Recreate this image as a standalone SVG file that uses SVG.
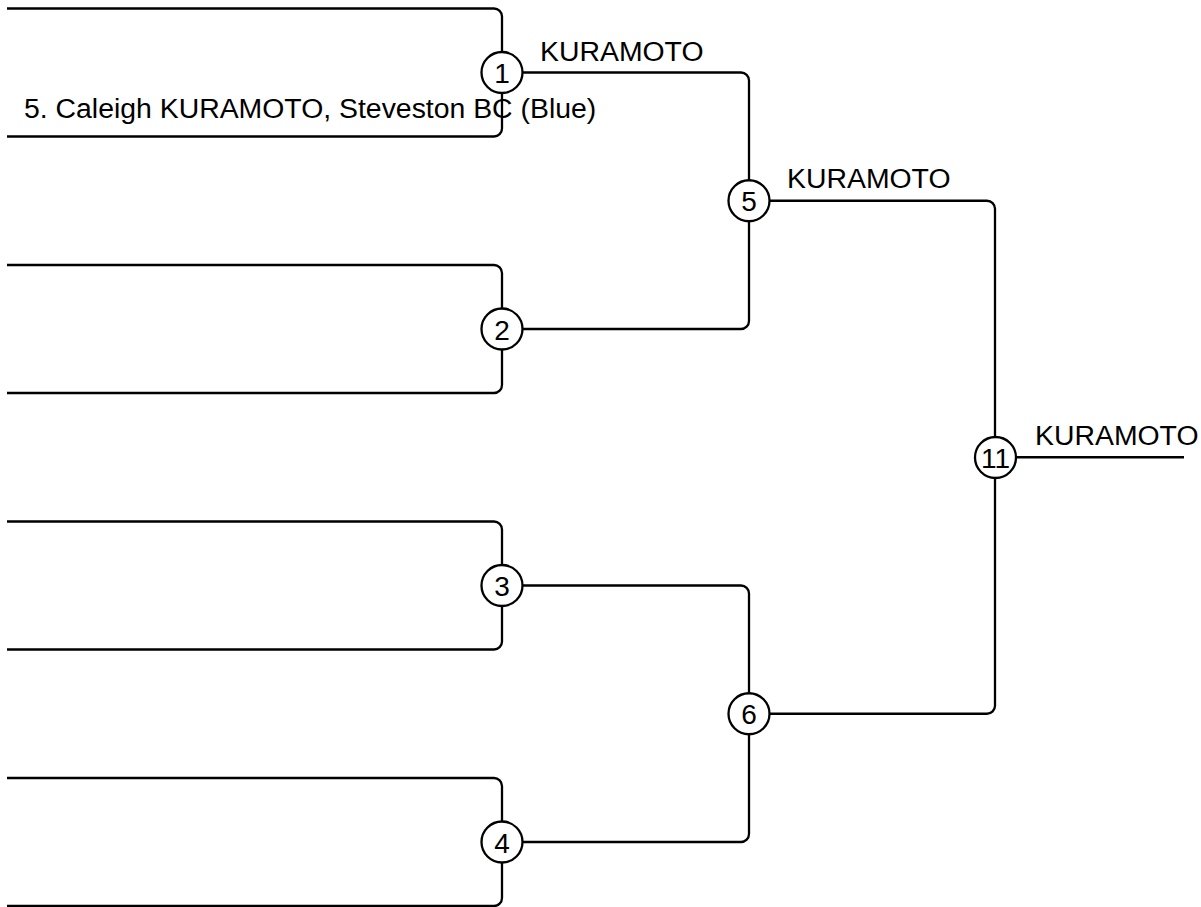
<svg xmlns="http://www.w3.org/2000/svg" width="1201" height="907" viewBox="0 0 1201 907">
<style>
.ln{fill:none;stroke:#000;stroke-width:2.3;stroke-linecap:butt}
.nd circle{fill:#fff;stroke:#000;stroke-width:2.3}
.nd text{font-family:"Liberation Sans",Arial,sans-serif;font-size:28px;fill:#000;text-anchor:middle}
.lbl{font-family:"Liberation Sans",Arial,sans-serif;font-size:28.4px;fill:#000}
</style>
<rect width="1201" height="907" fill="#fff"/>
<g id="connectors">
<path class="ln" d="M7,8.5 H494 A8,8 0 0 1 502,16.5 V128.5 A8,8 0 0 1 494,136.5 H7"/>
<path class="ln" d="M7,265 H494 A8,8 0 0 1 502,273 V385 A8,8 0 0 1 494,393 H7"/>
<path class="ln" d="M7,521.5 H494 A8,8 0 0 1 502,529.5 V641.5 A8,8 0 0 1 494,649.5 H7"/>
<path class="ln" d="M7,778 H494 A8,8 0 0 1 502,786 V898 A8,8 0 0 1 494,906 H7"/>
<path class="ln" d="M502,72.5 H741 A8,8 0 0 1 749,80.5 V321 A8,8 0 0 1 741,329 H502"/>
<path class="ln" d="M502,585.5 H741 A8,8 0 0 1 749,593.5 V834 A8,8 0 0 1 741,842 H502"/>
<path class="ln" d="M749,200.75 H987 A8,8 0 0 1 995,208.75 V705.75 A8,8 0 0 1 987,713.75 H749"/>
<path class="ln" d="M995,457.25 H1184"/>
</g>
<text class="lbl" x="24" y="118">5. Caleigh KURAMOTO, Steveston BC (Blue)</text>
<text class="lbl" x="540" y="61">KURAMOTO</text>
<text class="lbl" x="787" y="188">KURAMOTO</text>
<text class="lbl" x="1035" y="445">KURAMOTO</text>
<g id="match1" class="nd"><circle cx="502" cy="72.5" r="20.5"/><text x="502" y="83">1</text></g>
<g id="match2" class="nd"><circle cx="502" cy="329" r="20.5"/><text x="502" y="339.5">2</text></g>
<g id="match3" class="nd"><circle cx="502" cy="585.5" r="20.5"/><text x="502" y="596">3</text></g>
<g id="match4" class="nd"><circle cx="502" cy="842" r="20.5"/><text x="502" y="852.5">4</text></g>
<g id="match5" class="nd"><circle cx="749" cy="200.75" r="20.5"/><text x="749" y="211.25">5</text></g>
<g id="match6" class="nd"><circle cx="749" cy="713.75" r="20.5"/><text x="749" y="724.25">6</text></g>
<g id="match11" class="nd"><circle cx="995.5" cy="457.5" r="20.5"/><text x="995.5" y="467.5">11</text></g>
</svg>
